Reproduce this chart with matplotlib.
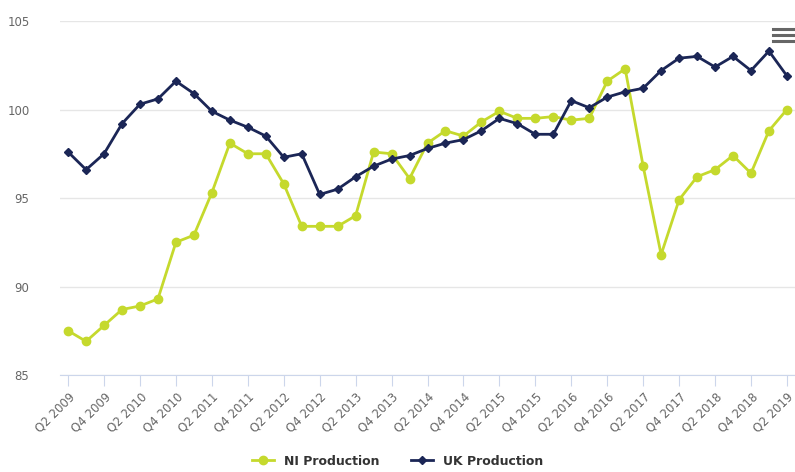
import matplotlib.pyplot as plt
from matplotlib.lines import Line2D

# quarters Q2 2009 .. Q2 2019
quarters = []
for yr in range(2009, 2020):
    for q in range(1, 5):
        if (yr == 2009 and q < 2) or (yr == 2019 and q > 2):
            continue
        quarters.append('Q%d %d' % (q, yr))

ni_production = [87.5, 86.9, 87.8, 88.7, 88.9, 89.3, 92.5, 92.9, 95.3, 98.1,
                 97.5, 97.5, 95.8, 93.4, 93.4, 93.4, 94.0, 97.6, 97.5, 96.1,
                 98.1, 98.8, 98.5, 99.3, 99.9, 99.5, 99.5, 99.6, 99.4, 99.5,
                 101.6, 102.3, 96.8, 91.8, 94.9, 96.2, 96.6, 97.4, 96.4, 98.8,
                 100.0]
uk_production = [97.6, 96.6, 97.5, 99.2, 100.3, 100.6, 101.6, 100.9, 99.9, 99.4,
                 99.0, 98.5, 97.3, 97.5, 95.2, 95.5, 96.2, 96.8, 97.2, 97.4,
                 97.8, 98.1, 98.3, 98.8, 99.5, 99.2, 98.6, 98.6, 100.5, 100.1,
                 100.7, 101.0, 101.2, 102.2, 102.9, 103.0, 102.4, 103.0, 102.2, 103.3,
                 101.9]
y_ticks = [85, 90, 95, 100, 105]

ni_color = '#c5d92d'
uk_color = '#1b2656'

fig = plt.figure(figsize=(7.95, 4.72), dpi=100)
ax = fig.add_axes([0.0755, 0.2055, 0.9245, 0.75])

x = list(range(len(quarters)))
ax.plot(x, ni_production, color=ni_color, lw=2, marker='o', ms=6,
        label='NI Production', zorder=3)
ax.plot(x, uk_production, color=uk_color, lw=2, marker='D', ms=4.2,
        label='UK Production', zorder=4)

ax.set_ylim(85, 105)
ax.set_yticks(y_ticks)
ax.set_xlim(-0.45, 40.45)
ax.set_xticks(x[::2])
ax.set_xticklabels(quarters[::2], rotation=45, ha='right', va='top',
                   rotation_mode='anchor')

ax.grid(axis='y', color='#e6e6e6', lw=1)
ax.set_axisbelow(True)
for s in ['top', 'right', 'left']:
    ax.spines[s].set_visible(False)
ax.spines['bottom'].set_color('#ccd6eb')
ax.tick_params(axis='x', colors='#ccd6eb', length=8, labelcolor='#666666',
               labelsize=8.5, pad=3)
ax.tick_params(axis='y', length=0, labelcolor='#666666', labelsize=8.5, pad=22)

leg = fig.legend(loc='lower center', bbox_to_anchor=(0.5, -0.015), ncol=2,
                 frameon=False, handlelength=1.8, columnspacing=2.5,
                 prop={'weight': 'bold', 'size': 9})
for t in leg.get_texts():
    t.set_color('#333333')

# export menu icon
for yy in [29, 35, 41]:
    fig.add_artist(Line2D([773 / 795, 793 / 795], [1 - yy / 472, 1 - yy / 472],
                          color='#666666', lw=2.2))

plt.savefig('out.png', dpi=100)
